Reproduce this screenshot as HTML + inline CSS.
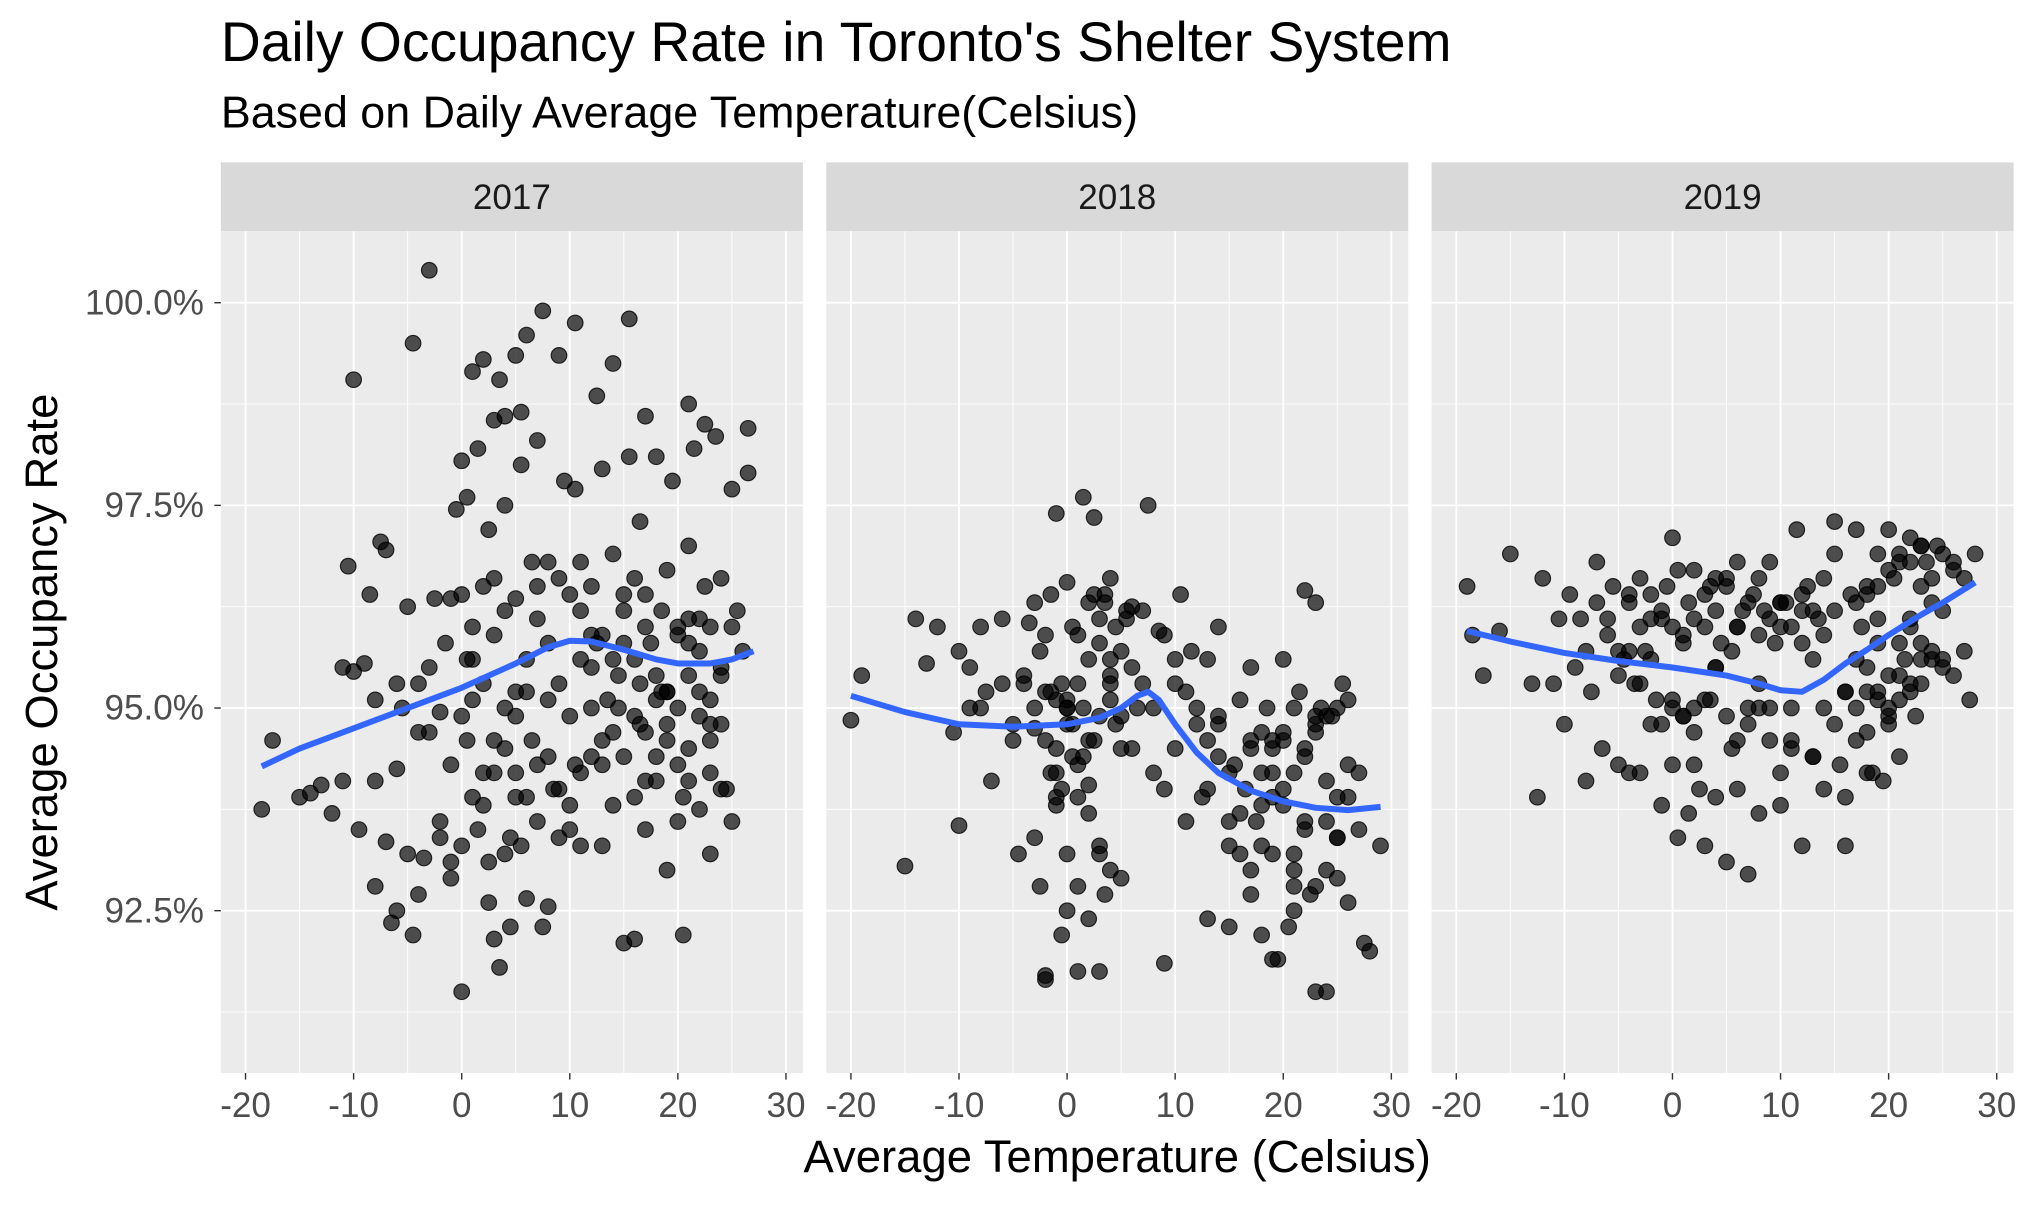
<!DOCTYPE html>
<html><head><meta charset="utf-8"><style>
html,body{margin:0;padding:0;background:#fff}
svg{display:block}
text{font-family:"Liberation Sans",Arial,sans-serif}
</style></head><body>
<svg id="chart" width="2037" height="1206" viewBox="0 0 1568 928.3" xmlns="http://www.w3.org/2000/svg">
<text x="170" y="47" font-size="42.5" fill="#000">Daily Occupancy Rate in Toronto's Shelter System</text>
<text x="170" y="98" font-size="34.5" fill="#000">Based on Daily Average Temperature(Celsius)</text>
<text transform="translate(44,502) rotate(-90)" text-anchor="middle" font-size="35" fill="#000">Average Occupancy Rate</text>
<text x="860" y="902" text-anchor="middle" font-size="35" fill="#000">Average Temperature (Celsius)</text>
<g id="panels"></g>
</svg>
<script>
const years = ["2017","2018","2019"];
const xTicks = [-20,-10,0,10,20,30];
const xTickLabels = ["-20","-10","0","10","20","30"];
const yTicks = [92.5,95,97.5,100];
const yTickLabels = ["92.5%","95.0%","97.5%","100.0%"];
const temps2017 = [-18.5,-17.5,-15,-14,-13,-12,-11,-11,-10.5,-10,-10,-9.5,-9,-8.5,-8,-8,-7.5,-7,-7,-6.5,-6,-6,-5.5,-5,-5,-4.5,-4.5,-4,-4,-3.5,-3,-3,-2.5,-2,-2,-1.5,-1,-1,-0.5,0,0,0,0,0.5,0.5,1,1,1.5,1.5,2,2,2,2.5,2.5,3,3,3,3.5,3.5,4,4,4,4,4.5,5,5,5,5.5,5.5,5.5,6,6,6,6.5,7,7,7.5,7.5,8,8,8,9,9,9.5,10,10,10.5,10.5,11,11,12,12,12.5,13,13,13.5,14,14,14.5,15,15,15.5,15.5,16,16,16,16.5,17,17,17.5,18,18,18.5,19,19,19.5,20,20,20.5,21,21,21.5,22,22,22.5,23,23,23.5,24,24,25,25,25.5,26,26.5,26.5,21,22,20,18,17,13,14,9,7,5,3,1,-1,11,19,21,23,24,16.5,12,
 -8,-6,-4,-2,0,1,2,3,4,5,6,7,8,9,10,11,12,13,14,15,16,17,18,19,20,21,22,23,24,25,2,4,6,8,10,12,14,16,18,20,22,24,1,3,5,7,9,11,13,15,17,19,21,23,-3,-1,0.5,2.5,4.5,6.5,8.5,10.5,12.5,14.5,16.5,18.5,20.5,22.5,24.5,15,17,19,21,23];
const occ2017 = [93.75,94.6,93.9,93.95,94.05,93.7,94.1,95.5,96.75,95.45,99.05,93.5,95.55,96.4,92.8,95.1,97.05,96.95,93.35,92.35,92.5,94.25,95.0,96.25,93.2,99.5,92.2,95.3,92.7,93.15,95.5,100.4,96.35,93.6,94.95,95.8,96.35,93.1,97.45,98.05,96.4,93.3,91.5,97.6,94.6,99.15,95.1,98.2,93.5,99.3,96.5,94.2,92.6,97.2,98.55,95.9,92.15,99.05,91.8,98.6,97.5,95.0,93.2,92.3,99.35,96.35,94.2,98.65,98.0,93.3,99.6,95.6,92.65,96.8,98.3,94.3,99.9,92.3,96.8,95.1,92.55,99.35,96.6,97.8,94.9,93.8,99.75,97.7,95.6,93.3,96.5,94.4,98.85,97.95,93.3,95.1,99.25,96.9,95.4,92.1,94.4,99.8,98.1,96.6,92.15,94.9,97.3,98.6,93.5,95.8,98.1,94.1,96.2,93.0,95.2,97.8,94.3,96.0,92.2,98.75,95.4,98.2,96.1,93.75,98.5,93.2,95.1,98.35,96.6,94.0,93.6,97.7,96.2,95.7,97.9,98.45,97.0,95.7,95.0,95.1,96.0,94.3,93.8,93.4,93.6,93.9,94.2,93.9,94.3,96.8,94.8,94.5,94.2,94.8,95.3,95.5,
 94.1,95.3,94.7,93.4,94.9,95.6,95.3,94.6,96.2,94.9,95.2,96.5,94.4,95.3,96.4,94.2,95.9,94.6,95.6,96.2,93.9,94.7,95.4,94.6,95.9,96.1,95.2,94.8,95.5,96.0,93.8,94.5,93.9,95.8,93.5,95.0,94.7,95.6,94.4,93.6,94.9,95.4,96.0,96.6,95.2,96.1,94.0,96.2,95.9,96.4,94.1,96.7,95.8,96.0,94.7,92.9,95.6,93.1,93.4,94.6,94.0,94.3,95.8,95.0,94.8,95.2,93.9,96.5,94.0,95.8,96.4,95.2,94.1,94.6];
const temps2018 = [-20,-19,-15,-14,-13,-12,-10.5,-10,-10,-9,-8,-7.5,-7,-6,-5,-4.5,-4,-3.5,-3,-3,-2.5,-2.5,-2,-2,-1.5,-1.5,-1,-1,-1,-0.5,-0.5,0,0,0,0,0.5,0.5,1,1,1,1.5,1.5,2,2,2,2.5,2.5,3,3,3,3.5,3.5,4,4,4,4.5,5,5,5.5,6,6,6.5,7,7,7.5,8,8.5,9,9,10,10,10.5,11,11.5,12,12.5,13,13,14,14,15,15.5,16,16.5,17,17,17.5,18,18,18.5,19,19,19.5,20,20,20.5,21,21,21.5,22,22,22.5,23,23,23.5,24,24,24.5,25,25,25.5,26,26,27,27.5,28,29,-2,0,2,4,18,20,22,24,21,19,23,15,
 -9,-8,-6,-5,-4,-3,-2,-1.5,-1,-0.5,0,0.5,1,1.5,2,2.5,3,3.5,4,4.5,5,5.5,6,-2,-1,0,1,2,3,4,5,-3,-1,1,3,8,9,10,11,12,13,14,15,16,17,18,19,20,21,22,23,24,25,26,27,16,18,20,22,24,26,17,19,21,23,25,15,17,19,21,23,25,13,14];
const occ2018 = [94.85,95.4,93.05,96.1,95.55,96.0,94.7,95.7,93.55,95.0,96.0,95.2,94.1,96.1,94.6,93.2,95.3,96.05,93.4,94.75,92.8,95.7,95.2,91.7,94.2,96.4,97.4,93.8,95.1,94.0,92.2,96.55,95.0,93.2,92.5,94.8,96.0,92.8,95.9,91.75,94.4,97.6,93.7,95.6,92.4,97.35,96.4,93.2,94.9,91.75,96.4,92.7,95.4,96.6,93.0,94.8,95.7,92.9,96.2,94.5,96.25,95.0,95.3,96.2,97.5,94.2,95.95,91.85,94.0,95.3,94.5,96.4,93.6,95.7,94.8,93.9,95.6,92.4,94.8,96.0,93.3,94.3,95.1,94.0,92.7,95.5,93.6,94.7,92.2,95.0,93.2,94.6,91.9,93.8,95.6,92.3,94.2,93.0,95.2,96.45,94.5,92.7,91.5,96.3,95.0,93.6,91.5,94.9,92.9,93.4,95.3,93.9,92.6,94.2,92.1,92.0,93.3,91.65,94.8,94.05,95.3,94.2,94.6,93.5,93.0,92.8,91.9,94.9,93.6,95.5,
 95.0,95.3,94.8,95.4,95.0,94.6,95.2,94.5,95.3,95.1,94.4,95.3,95.0,96.3,94.6,95.8,96.3,95.1,96.0,94.5,96.1,95.5,95.9,94.2,95.0,93.9,94.6,96.1,95.6,94.9,96.3,93.9,94.3,93.3,95.0,95.9,95.6,95.2,95.0,94.6,94.9,94.2,93.7,94.6,93.8,94.5,94.0,93.2,94.4,94.8,94.1,95.0,94.3,93.5,93.2,93.3,94.7,93.6,94.9,95.1,93.0,93.9,92.5,92.8,93.4,92.3,94.5,94.2,95.0,94.7,93.9,94.0,94.4,94.7];
const temps2019 = [-19,-18.5,-17.5,-16,-15,-13,-12.5,-12,-11,-10.5,-10,-9.5,-9,-8.5,-8,-7.5,-7,-6.5,-6,-5.5,-5,-4.5,-4,-4,-3.5,-3,-3,-2.5,-2,-2,-1.5,-1,-1,-0.5,0,0,0.5,0.5,1,1,1.5,1.5,2,2,2.5,3,3,3.5,3.5,4,4,4.5,5,5,5.5,5.5,6,6,6.5,7,7,7.5,8,8,8.5,9,9,9.5,10,10,10.5,11,11,11.5,12,12,12.5,13,13,13.5,14,14,15,15,15.5,16,16,16.5,17,17,17.5,18,18,18.5,19,19,19.5,20,20,20.5,21,21,21.5,22,22,22.5,23,23,23.5,24,24,24.5,25,25,26,26,27,27,27.5,28,20,21,22,19,17,23,12,8,4,0,-5,25,18,
 -8,-6,-4,-3,-2,-1,0,1,2,3,4,5,6,7,8,9,10,11,12,13,14,-7,-5,-3,-1,1,3,5,7,9,11,13,0,2,4,6,8,10,14,15,16,17,18,19,20,21,22,23,24,25,26,18,19,20,21,22,23,24,19,21,23,-4,-2,2,6,10,15,16,17,18,20,22];
const occ2019 = [96.5,95.9,95.4,95.95,96.9,95.3,93.9,96.6,95.3,96.1,94.8,96.4,95.5,96.1,94.1,95.2,96.8,94.5,95.9,96.5,94.3,95.6,96.3,94.2,95.3,96.6,94.2,95.7,94.8,96.4,95.1,96.1,93.8,96.5,97.1,95.0,96.7,93.4,95.8,94.9,96.3,93.7,96.7,95.0,94.0,96.0,93.3,96.5,95.1,95.5,93.9,95.8,96.6,93.1,94.5,95.7,96.0,94.0,96.2,92.95,94.8,96.4,95.3,93.7,96.2,96.8,94.6,95.8,96.0,93.8,96.3,95.0,94.5,97.2,95.8,93.3,96.5,94.4,95.6,96.1,94.0,95.0,96.9,97.3,94.3,95.2,93.3,96.4,95.6,97.2,96.0,94.7,96.5,94.2,95.8,96.9,94.1,95.4,97.2,96.6,94.4,96.8,95.6,97.1,96.1,94.9,97.0,95.3,96.8,96.3,95.6,97.0,96.2,95.5,96.8,95.4,95.7,96.6,95.1,96.9,95.0,95.8,96.0,96.5,96.3,95.8,96.2,95.0,95.5,95.1,95.4,95.6,95.2,95.7,96.1,
 95.7,96.0,95.6,96.2,96.0,95.9,96.1,96.4,96.2,96.5,96.0,96.3,95.9,96.1,96.3,96.0,96.4,96.2,95.9,96.3,95.7,95.3,94.8,94.9,95.1,94.9,95.0,95.0,94.6,94.4,94.3,94.7,96.6,96.8,96.6,96.3,96.6,96.2,95.2,95.0,95.5,95.1,96.7,96.9,96.8,97.0,96.6,96.9,96.7,96.4,96.1,94.8,95.1,95.3,95.6,95.7,95.2,95.4,96.5,96.4,96.1,94.3,94.6,94.2,94.8,93.9,94.6,94.2,94.9,95.2,94.7,95.0];
const smoothT2017 = [-18.5,-15,-10,-5,0,5,8,10,12,15,18,20,23,25,27];
const smoothY2017 = [94.28,94.5,94.75,95.0,95.25,95.55,95.75,95.83,95.82,95.72,95.6,95.55,95.55,95.6,95.7];
const smoothT2018 = [-20,-15,-10,-5,0,3,5,6.5,7.5,8.5,10,12,14,17,20,23,26,29];
const smoothY2018 = [95.15,94.95,94.8,94.77,94.8,94.88,95.0,95.15,95.2,95.1,94.8,94.45,94.2,93.98,93.85,93.77,93.74,93.78];
const smoothT2019 = [-19,-15,-10,-5,0,5,8,10,12,14,16,18,20,23,25,28];
const smoothY2019 = [95.95,95.82,95.68,95.58,95.5,95.4,95.3,95.22,95.2,95.35,95.55,95.72,95.9,96.15,96.3,96.55];
const tempsByYear = [temps2017, temps2018, temps2019];
const occByYear = [occ2017, occ2018, occ2019];
const smoothTByYear = [smoothT2017, smoothT2018, smoothT2019];
const smoothYByYear = [smoothY2017, smoothY2018, smoothY2019];

const NS = "http://www.w3.org/2000/svg";
const panelLeft = [170, 636, 1102], panelW = 448, panelTop = 178, panelBot = 826;
function xScale(p, t){ return panelLeft[p] + 19 + (t + 20) * 8.32; }
function yScale(v){ return 233 + (100 - v) * 62.4; }
function mk(tag, attrs, parent){ const e = document.createElementNS(NS, tag); for (const k in attrs) e.setAttribute(k, attrs[k]); parent.appendChild(e); return e; }
const root = document.getElementById("panels");
for (let p = 0; p < 3; p++) {
  const g = mk("g", {}, root);
  
  
  const L = panelLeft[p];
  const strip = mk("rect", {x: L, y: 125, width: panelW, height: 53, fill: "#d9d9d9"}, g);
  
  
  const st = mk("text", {x: L + panelW / 2, y: 161, "text-anchor": "middle", "font-size": "27", fill: "#1a1a1a"}, g);
  st.textContent = years[p];
  
  
  const bg = mk("rect", {x: L, y: panelTop, width: panelW, height: panelBot - panelTop, fill: "#ebebeb"}, g);
  
  
  for (let t = -25; t <= 35; t += 10) { const x = xScale(p, t); if (x > L && x < L + panelW) mk("line", {x1: x, x2: x, y1: panelTop, y2: panelBot, stroke: "#fff", "stroke-width": 0.7}, g); }
  for (let v = 91.25; v <= 101; v += 2.5) { const y = yScale(v); if (y > panelTop && y < panelBot) mk("line", {x1: L, x2: L + panelW, y1: y, y2: y, stroke: "#fff", "stroke-width": 0.7}, g); }
  xTicks.forEach((t, i) => {
    const x = xScale(p, t);
    mk("line", {x1: x, x2: x, y1: panelTop, y2: panelBot, stroke: "#fff", "stroke-width": 1.4}, g);
    mk("line", {x1: x, x2: x, y1: panelBot, y2: panelBot + 5, stroke: "#333", "stroke-width": 1.1}, g);
    const tl = mk("text", {x: x, y: panelBot + 34, "text-anchor": "middle", "font-size": "27", fill: "#4d4d4d"}, g);
    tl.textContent = xTickLabels[i];
    
    
  });
  yTicks.forEach((v, i) => {
    const y = yScale(v);
    mk("line", {x1: L, x2: L + panelW, y1: y, y2: y, stroke: "#fff", "stroke-width": 1.4}, g);
    if (p === 0) {
      mk("line", {x1: L - 5, x2: L, y1: y, y2: y, stroke: "#333", "stroke-width": 1.1}, g);
      const tl = mk("text", {x: L - 13, y: y + 9, "text-anchor": "end", "font-size": "27", fill: "#4d4d4d"}, g);
      tl.textContent = yTickLabels[i];
      
      
    }
  });
  const temps = tempsByYear[p], occ = occByYear[p];
  const n = Math.min(temps.length, occ.length);
  for (let i = 0; i < n; i++) {
    const c = mk("circle", {cx: xScale(p, temps[i]), cy: yScale(occ[i]), r: 6, fill: "rgba(0,0,0,0.68)", stroke: "rgba(0,0,0,0.8)", "stroke-width": 0.9}, g);
    
    
  }
  const sT = smoothTByYear[p], sY = smoothYByYear[p];
  let d = "";
  for (let i = 0; i < sT.length; i++) d += (i ? "L" : "M") + xScale(p, sT[i]).toFixed(1) + "," + yScale(sY[i]).toFixed(1);
  const path = mk("path", {d: d, fill: "none", stroke: "#3366ff", "stroke-width": 4.6, "stroke-linejoin": "round", "stroke-linecap": "butt"}, g);
  
  
}
</script>
</body></html>
